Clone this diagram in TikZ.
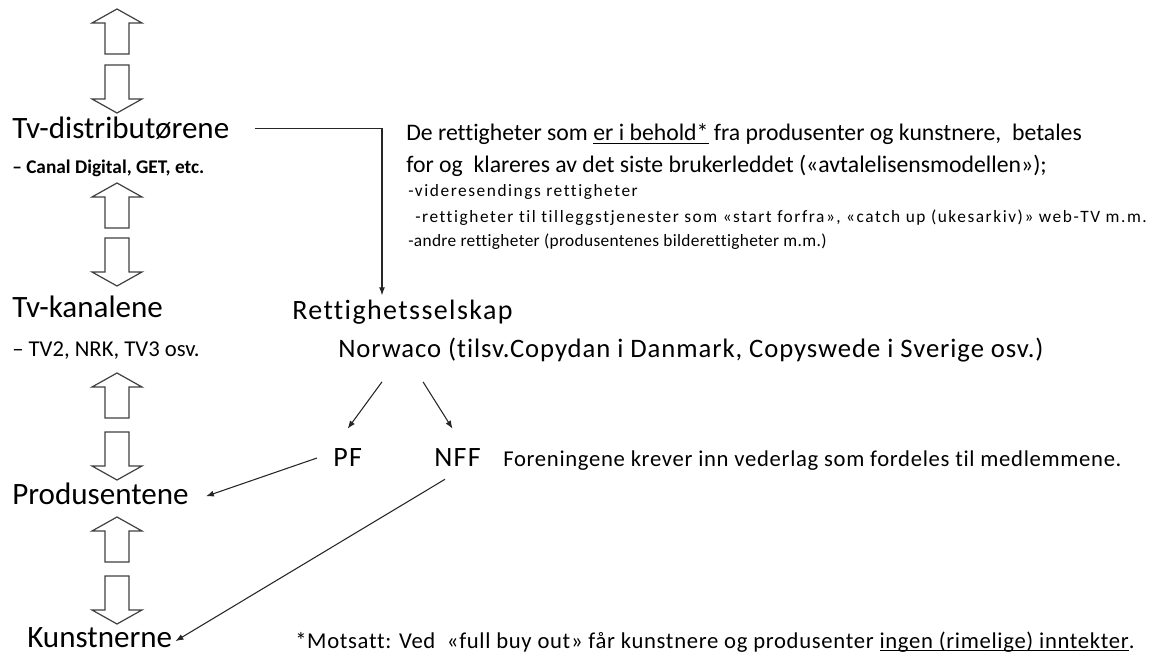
\documentclass[tikz,border=0pt]{standalone}
\usepackage{fontspec}
\setmainfont{Carlito}[Ligatures=NoCommon]
\usetikzlibrary{calc,arrows.meta}

\newcommand\ulword[1]{\setbox0\hbox{#1}\rlap{\rule[-2.2pt]{\wd0}{0.6pt}}\box0\relax}

\tikzset{
  lbl/.style={anchor=base west,inner sep=0pt},
  big/.style={lbl,font=\fontsize{23.3}{27}\selectfont},
  firm/.style={lbl,font=\fontsize{21}{25}\selectfont\addfontfeatures{LetterSpace=5}},
  forening/.style={lbl,font=\fontsize{21}{25}\selectfont\addfontfeatures{LetterSpace=5}},
  mid/.style={lbl,font=\fontsize{17.8}{21}\selectfont},
  small/.style={lbl,font=\fontsize{13}{15}\selectfont\addfontfeatures{LetterSpace=9}},
  note/.style={lbl,font=\fontsize{17}{20}\selectfont\addfontfeatures{LetterSpace=3}},
  conn/.style={draw=black!85,line width=0.8pt,-{Latex[length=6pt,width=4.5pt]}},
  blockarrow/.style={draw=black!75,line width=0.9pt,line join=miter,fill=white},
}

\begin{document}
\begin{tikzpicture}[x=0.75pt,y=-0.75pt]
  \useasboundingbox (0,0) rectangle (1153,655);

  % blokkpiler mellom leddene
  \foreach \t in {9,183,373,517}
    \draw[blockarrow] (117,\t) -- ++(-25,14) -- ++(13,0) -- ++(0,31) -- ++(24,0)
      -- ++(0,-31) -- ++(13,0) -- cycle;
  \foreach \t in {65,238,432,576}
    \draw[blockarrow] (105,\t) -- ++(24,0) -- ++(0,34) -- ++(13,0) -- ++(-25,14)
      -- ++(-25,-14) -- ++(13,0) -- cycle;

  % venstre kolonne
  \node[big] (tvd) at (12,139) {Tv-distributørene};
  \node[lbl,font=\fontsize{14.5}{17}\selectfont\bfseries] (tvdsub) at (12,174) {– Canal Digital, GET, etc.};
  \node[big] (tvk) at (12,318) {Tv-kanalene};
  \node[lbl,font=\fontsize{17}{20}\selectfont] (tvksub) at (12,357) {– TV2, NRK, TV3 osv.};
  \node[big] (prod) at (12,505) {Produsentene};
  \node[big] (kunst) at (27,647) {Kunstnerne};

  % rettigheter i behold
  \node[mid] (beh1) at (406,141) {De rettigheter som \ulword{er i behold*} fra produsenter og kunstnere,\ \ betales};
  \node[mid] (beh2) at (406,173) {for og\ \ klareres av det siste brukerleddet («avtalelisensmodellen»);};
  \node[small] (rt1) at (408,197) {-videresendings rettigheter};
  \node[small] (rt2) at (415,223) {-rettigheter til tilleggstjenester som «start forfra», «catch up (ukesarkiv)» web-TV m.m.};
  \node[small,font=\fontsize{13}{15}\selectfont\addfontfeatures{LetterSpace=2}] (rt3) at (408,247)
    {-andre rettigheter (produsentenes bilderettigheter m.m.)};

  % selskap og foreninger
  \node[firm] (rett) at (292,320) {Rettighetsselskap};
  \node[lbl,font=\fontsize{20}{24}\selectfont\addfontfeatures{LetterSpace=3.5}] (norw) at (338,358)
    {Norwaco (tilsv.Copydan i Danmark, Copyswede i Sverige osv.)};
  \node[forening] (pf) at (333,467) {PF};
  \node[forening] (nff) at (434,467) {NFF};
  \node[note] (foren) at (503,467) {Foreningene krever inn vederlag som fordeles til medlemmene.};
  \node[note] (mots) at (295,648)
    {*Motsatt: Ved\ \ «full buy out» får kunstnere og produsenter \ulword{ingen (rimelige) inntekter}.};

  % forbindelser
  \draw[conn] ($(tvd.east)+(25,0)$) -| ($(rett.north west)+(90,-5)$);
  \draw[conn] ($(norw.south west)+(44,19)$) -- ($(pf.north)+(0,-20)$);
  \draw[conn] ($(norw.south west)+(85,19)$) -- ($(nff.north)+(-5,-20)$);
  \draw[conn] ($(pf.west)+(-16,0)$) -- ($(prod.east)+(17,2)$);
  \draw[conn] ($(nff.south west)+(11,12)$) -- ($(kunst.east)+(3,4)$);
\end{tikzpicture}
\end{document}
